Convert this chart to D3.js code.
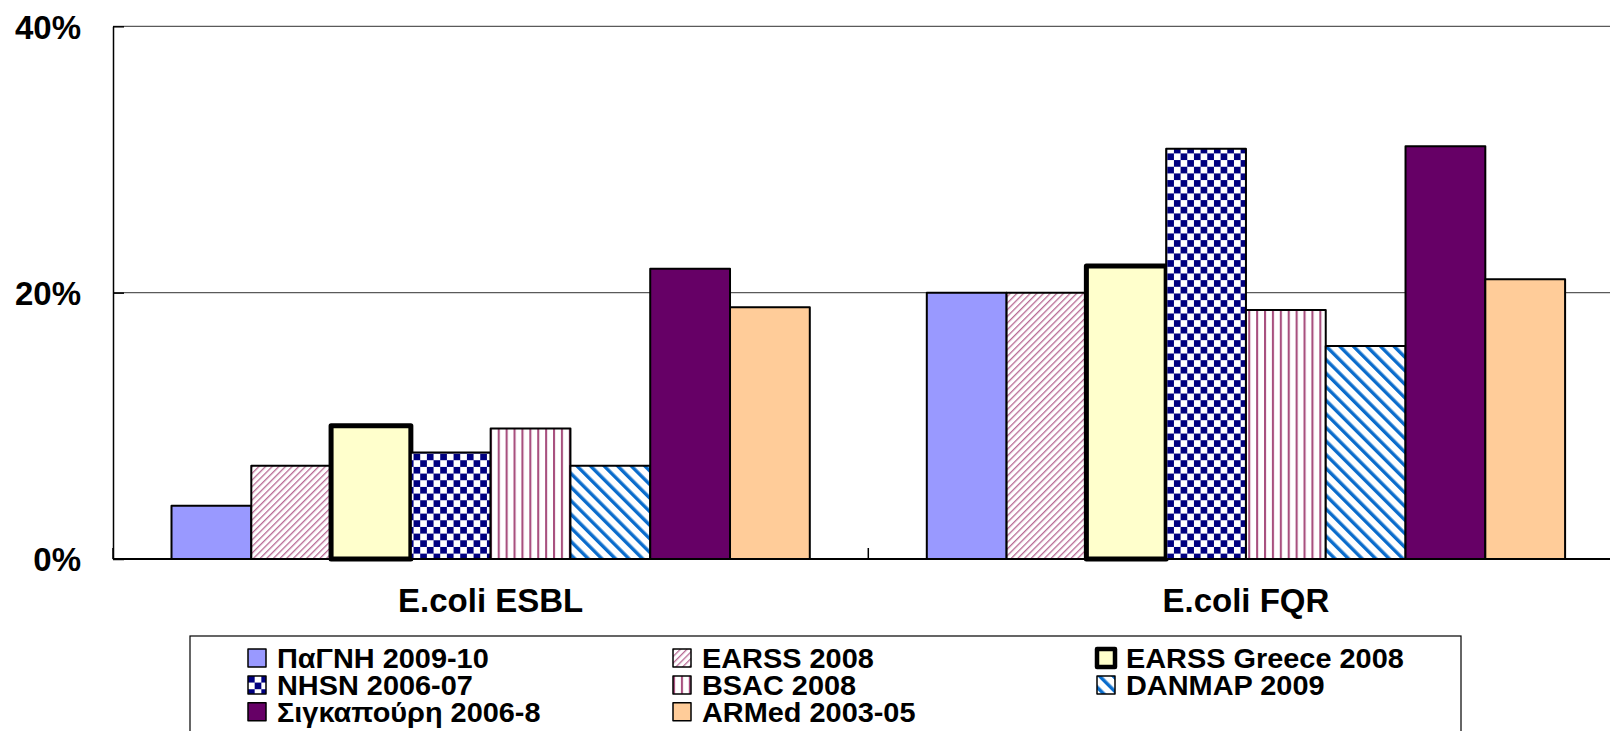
<!DOCTYPE html>
<html>
<head>
<meta charset="utf-8">
<script src="https://cdn.jsdelivr.net/npm/d3@7"></script>
<style>
  html, body { margin: 0; padding: 0; background: #fff; overflow: hidden; }
  svg { display: block; }
  text { font-family: "Liberation Sans", Arial, sans-serif; font-weight: bold; fill: #000; }
</style>
</head>
<body>
<svg id="chart" width="1610" height="731"></svg>
<script>
// Resistance rates by surveillance source
const categories = ["E.coli ESBL", "E.coli FQR"];
const seriesNames = [
  "ΠαΓΝΗ 2009-10", "EARSS 2008", "EARSS Greece 2008",
  "NHSN 2006-07", "BSAC 2008", "DANMAP 2009",
  "Σιγκαπούρη 2006-8", "ARMed 2003-05"
];
const esblValues = [0.04, 0.07, 0.10, 0.08, 0.098, 0.07, 0.218, 0.189];
const fqrValues  = [0.20, 0.20, 0.22, 0.308, 0.187, 0.16, 0.31, 0.21];
const yTicks = [0, 0.2, 0.4];
const yTickLabels = ["0%", "20%", "40%"];

const rows = [];
categories.forEach((c, ci) => {
  const vals = ci === 0 ? esblValues : fqrValues;
  seriesNames.forEach((s, si) => rows.push({ category: c, series: s, value: vals[si] }));
});

const svg = d3.select("#chart");
const defs = svg.append("defs");

// Fill patterns
function stripes(id, period, thick, color, angle) {
  const p = defs.append("pattern").attr("id", id)
    .attr("patternUnits", "userSpaceOnUse")
    .attr("width", period).attr("height", period)
    .attr("patternTransform", `rotate(${angle})`);
  p.append("rect").attr("width", period).attr("height", period).attr("fill", "#fff");
  p.append("rect").attr("x", 0).attr("width", thick).attr("height", period).attr("fill", color);
}
stripes("pEarss", 4.7, 1.3, "#b86a94", 45);
stripes("pBsac", 7.9, 2.1, "#a8507f", 0);
stripes("pDanmap", 9.6, 3.4, "#0a6ccc", -45);
(function () {
  const s = 6.67;
  const p = defs.append("pattern").attr("id", "pChecker")
    .attr("patternUnits", "userSpaceOnUse")
    .attr("width", 2 * s).attr("height", 2 * s);
  p.append("rect").attr("width", 2 * s).attr("height", 2 * s).attr("fill", "#fff");
  p.append("rect").attr("width", s).attr("height", s).attr("fill", "#000080");
  p.append("rect").attr("x", s).attr("y", s).attr("width", s).attr("height", s).attr("fill", "#000080");
})();

const fills = d3.scaleOrdinal().domain(seriesNames).range([
  "#9999ff", "url(#pEarss)", "#ffffcc", "url(#pChecker)",
  "url(#pBsac)", "url(#pDanmap)", "#660066", "#ffcc99"
]);
const strokeW = d3.scaleOrdinal().domain(seriesNames).range([2, 2, 5, 2, 2, 2, 2, 2]);

// Scales
const plotLeft = 113, plotTop = 26.3, plotBottom = 559, catW = 755.3;
const x0 = d3.scaleBand().domain(categories).range([plotLeft, plotLeft + 2 * catW]);
const x1 = d3.scaleBand().domain(seriesNames).range([58.5, catW - 58.5]);
const y = d3.scaleLinear().domain([0, 0.4]).range([plotBottom, plotTop]);

// Gridlines
svg.append("g").selectAll("line").data(yTicks.filter(d => d > 0)).join("line")
  .attr("x1", plotLeft).attr("x2", 1610)
  .attr("y1", d => y(d)).attr("y2", d => y(d))
  .attr("stroke", "#5a5a5a").attr("stroke-width", 1.3);

// Bars
svg.append("g").selectAll("rect").data(rows).join("rect")
  .attr("x", d => x0(d.category) + x1(d.series))
  .attr("y", d => y(d.value))
  .attr("width", x1.bandwidth())
  .attr("height", d => y(0) - y(d.value))
  .attr("fill", d => fills(d.series))
  .attr("stroke", "#000")
  .attr("stroke-width", d => strokeW(d.series))
  .attr("stroke-linejoin", "round");

// Y axis
const yAxis = svg.append("g").attr("transform", `translate(${plotLeft},0)`)
  .call(d3.axisLeft(y).tickValues(yTicks).tickSizeInner(-11).tickSizeOuter(0)
    .tickFormat((d, i) => yTickLabels[i]).tickPadding(32));
yAxis.select(".domain").attr("stroke", "#000").attr("stroke-width", 1.5);
yAxis.selectAll(".tick line").attr("stroke", "#000").attr("stroke-width", 1.5);
yAxis.selectAll("text").attr("font-size", 33).attr("font-family", null)
  .attr("dy", "0.36em");

// X axis: baseline, boundary ticks and category labels
const xg = svg.append("g");
xg.append("line").attr("x1", plotLeft).attr("x2", 1610)
  .attr("y1", plotBottom).attr("y2", plotBottom).attr("stroke", "#000").attr("stroke-width", 2);
const bounds = categories.map(c => x0(c)).concat([x0.range()[1]]);
xg.selectAll("line.tk").data(bounds).join("line").attr("class", "tk")
  .attr("x1", d => d).attr("x2", d => d)
  .attr("y1", plotBottom).attr("y2", plotBottom - 11)
  .attr("stroke", "#000").attr("stroke-width", 1.5);
xg.selectAll("text").data(categories).join("text")
  .attr("x", d => x0(d) + x0.bandwidth() / 2)
  .attr("y", 612.3)
  .attr("text-anchor", "middle")
  .attr("font-size", 33)
  .text(d => d);

// Legend
const lg = svg.append("g");
lg.append("rect").attr("x", 190).attr("y", 636).attr("width", 1271).attr("height", 130)
  .attr("fill", "#fff").attr("stroke", "#000").attr("stroke-width", 1.2);
const colX = [248, 673, 1097];
const items = lg.selectAll("g.item").data(seriesNames).join("g").attr("class", "item")
  .attr("transform", (d, i) => `translate(${colX[i % 3]},${649 + Math.floor(i / 3) * 26.9})`);
items.append("rect")
  .attr("width", 18).attr("height", 18)
  .attr("fill", d => fills(d))
  .attr("stroke", "#000")
  .attr("stroke-width", d => strokeW(d) > 2 ? 4.5 : 1.5)
  .attr("stroke-linejoin", "round");
items.append("text")
  .attr("transform", "translate(29,19.2) scale(1.07,1)")
  .attr("font-size", 27)
  .text(d => d);
</script>
</body>
</html>
